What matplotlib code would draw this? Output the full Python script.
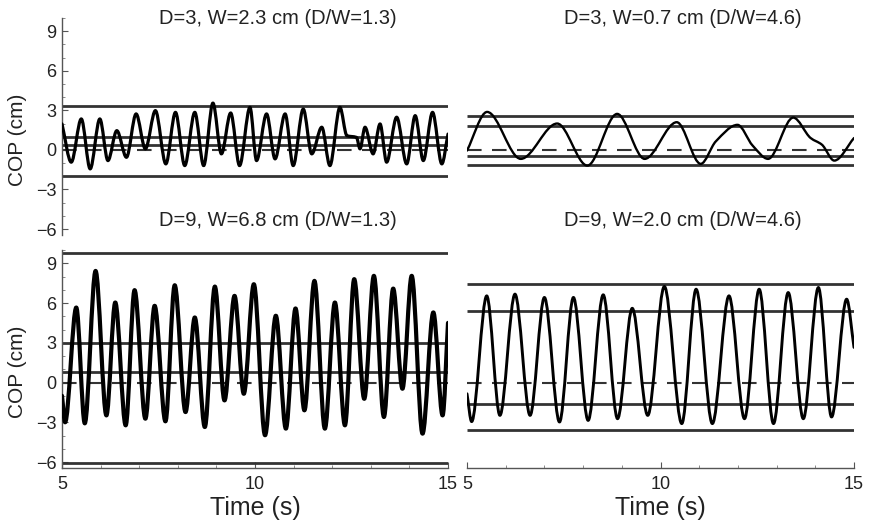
import numpy as np
import matplotlib
matplotlib.use("Agg")
import matplotlib.pyplot as plt
from matplotlib.path import Path
from matplotlib.patches import PathPatch
from matplotlib.ticker import MultipleLocator

plt.rcParams['font.family'] = ['Liberation Sans', 'DejaVu Sans']

# --- data (peaks / troughs of the COP trace) ---
tl_time = [5.00, 5.24, 5.50, 5.73, 5.98, 6.19, 6.42, 6.67, 6.92, 7.16, 7.42, 7.69, 7.94,
           8.18, 8.44, 8.67, 8.91, 9.13, 9.37, 9.60, 9.87, 10.04, 10.30, 10.52, 10.78,
           10.99, 11.25, 11.47, 11.73, 11.94, 12.20, 12.38, 12.63, 12.72, 12.85, 13.06,
           13.24, 13.41, 13.67, 13.93, 14.15, 14.36, 14.60, 14.84, 15.00]
tl_cop = [1.97, -0.93, 2.35, -1.44, 2.35, -0.81, 1.46, -0.56, 2.73, 0.08, 2.98, -1.06, 2.85,
          -1.19, 2.85, -1.19, 3.55, -0.30, 2.80, -1.19, 3.23, -0.81, 2.73, -0.68, 2.73,
          -1.19, 3.10, -0.30, 1.72, -1.19, 3.23, 1.08, 0.95, 0.08, 1.72, -0.30,
          1.97, -0.93, 2.48, -1.06, 2.60, -0.81, 2.85, -1.06, 1.20]

tr_time = [5.00, 5.52, 6.39, 7.33, 8.11, 8.88, 9.59, 10.42, 11.04, 11.43, 11.99, 12.38,
           12.78, 13.43, 13.88, 14.17, 14.49, 15.00]
tr_cop = [-0.05, 2.88, -0.68, 2.00, -1.19, 2.73, -0.68, 2.10, -1.06, 0.65, 1.90, 0.33,
          -0.68, 2.45, 0.90, 0.40, -0.81, 0.90]

bl_time = [5.00, 5.08, 5.37, 5.59, 5.87, 6.15, 6.38, 6.65, 6.88, 7.16, 7.40, 7.68, 7.92,
           8.20, 8.44, 8.70, 8.96, 9.21, 9.47, 9.71, 9.97, 10.26, 10.54, 10.80, 11.05,
           11.28, 11.54, 11.81, 12.07, 12.33, 12.57, 12.83, 13.08, 13.34, 13.58, 13.82,
           14.06, 14.34, 14.62, 14.86, 15.00]
bl_cop = [-1.0, -3.0, 5.66, -3.08, 8.42, -2.48, 6.04, -3.23, 6.97, -2.73, 5.79, -2.93, 7.34,
          -2.23, 4.91, -3.36, 7.24, -1.35, 6.54, -0.85, 7.42, -3.98, 5.04, -3.48, 5.59,
          -2.10, 7.67, -3.48, 6.04, -3.23, 7.80, -1.23, 8.05, -2.60, 7.09, -0.47,
          8.05, -3.86, 5.29, -2.48, 4.50]

br_time = [5.00, 5.12, 5.51, 5.85, 6.24, 6.63, 7.00, 7.39, 7.75, 8.13, 8.52, 8.89, 9.27,
           9.67, 10.10, 10.55, 10.92, 11.34, 11.77, 12.17, 12.55, 12.92, 13.30, 13.69,
           14.08, 14.42, 14.81, 15.00]
br_cop = [-0.85, -2.95, 6.54, -2.48, 6.67, -2.48, 6.42, -2.98, 6.42, -2.86, 6.62, -2.73, 5.60,
          -2.48, 7.25, -3.10, 7.04, -3.10, 6.54, -2.73, 7.04, -3.10, 6.79, -2.73,
          7.17, -2.60, 6.29, 2.65]

# target edges (cm)
tl_targets = [3.3, 1.0, 0.35, -1.95]
tr_targets = [2.55, 1.85, -0.45, -1.15]
bl_targets = [9.8, 2.95, 0.8, -6.05]
br_targets = [7.4, 5.4, -1.6, -3.6]

titles = ["D=3, W=2.3 cm (D/W=1.3)", "D=3, W=0.7 cm (D/W=4.6)",
          "D=9, W=6.8 cm (D/W=1.3)", "D=9, W=2.0 cm (D/W=4.6)"]


def curve_path(t, v):
    # smooth curve through the read extrema (flat tangents at peaks/troughs)
    t = np.asarray(t, float)
    v = np.asarray(v, float)
    d = np.diff(v) / np.diff(t)
    m = np.zeros(len(t))
    for i in range(1, len(t) - 1):
        if d[i - 1] * d[i] > 0:
            m[i] = 2.0 / (1.0 / d[i - 1] + 1.0 / d[i])
    m[0] = d[0]
    m[-1] = d[-1]
    verts = [(t[0], v[0])]
    codes = [Path.MOVETO]
    for i in range(len(t) - 1):
        h = (t[i + 1] - t[i]) / 3.0
        verts += [(t[i] + h, v[i] + m[i] * h),
                  (t[i + 1] - h, v[i + 1] - m[i + 1] * h),
                  (t[i + 1], v[i + 1])]
        codes += [Path.CURVE4] * 3
    return Path(verts, codes)


W, H = 872, 524
fig = plt.figure(figsize=(W / 100, H / 100), dpi=100)

ax_tl = fig.add_axes([62 / W, 1 - 235 / H, 386 / W, 217 / H])
ax_tr = fig.add_axes([467 / W, 1 - 235 / H, 387 / W, 217 / H])
ax_bl = fig.add_axes([62 / W, 1 - 468 / H, 386 / W, 218 / H])
ax_br = fig.add_axes([467 / W, 1 - 468 / H, 387 / W, 218 / H])

panels = [
    (ax_tl, tl_time, tl_cop, tl_targets, 2.3),
    (ax_tr, tr_time, tr_cop, tr_targets, 1.7),
    (ax_bl, bl_time, bl_cop, bl_targets, 3.0),
    (ax_br, br_time, br_cop, br_targets, 2.1),
]

txt = '#222222'
for ax, t, v, targets, lw in panels:
    ax.set_xlim(5, 15)
    ax.set_ylim(-6.45, 10.0)
    ax.set_facecolor('none')
    for s in ax.spines.values():
        s.set_visible(False)
    for y in targets:
        ax.hlines(y, 5, 15, color='#333333', lw=2.0, zorder=2)
    ax.hlines(0, 5, 15, color='#333333', lw=1.5, linestyles=(0, (7, 5)), zorder=2)
    ax.add_patch(PathPatch(curve_path(t, v), fill=False, edgecolor='black', lw=lw,
                           joinstyle='round', capstyle='round', zorder=3))
    ax.set_xticks([])
    ax.set_yticks([])

for ax in (ax_tl, ax_bl):
    ax.spines['left'].set_visible(True)
    ax.spines['left'].set_color('#555555')
    ax.spines['left'].set_linewidth(1.0)
    ax.set_yticks([-6, -3, 0, 3, 6, 9])
    ax.yaxis.set_minor_locator(MultipleLocator(1))
    ax.tick_params(axis='y', which='major', direction='in', length=4, width=0.8,
                   color='#555555', labelsize=13, labelcolor=txt, pad=4)
    ax.tick_params(axis='y', which='minor', direction='in', length=2, width=0.6,
                   color='#777777')
    ax.set_ylabel('COP (cm)', fontsize=15, color=txt)
    ax.yaxis.set_label_coords(-0.09, 0.44)

for ax in (ax_bl, ax_br):
    ax.spines['bottom'].set_visible(True)
    ax.spines['bottom'].set_color('#555555')
    ax.spines['bottom'].set_linewidth(1.0)
    ax.set_xticks([5, 10, 15])
    ax.xaxis.set_minor_locator(MultipleLocator(1))
    ax.tick_params(axis='x', which='major', direction='in', length=4, width=0.8,
                   color='#555555', labelsize=13, labelcolor=txt, pad=6)
    ax.tick_params(axis='x', which='minor', direction='in', length=2, width=0.6,
                   color='#777777')
    ax.set_xlabel('Time (s)', fontsize=18, color=txt, labelpad=2)

title_pos = [(278, 19), (683, 19), (278, 221), (683, 221)]
for (x, y), s in zip(title_pos, titles):
    fig.text(x / W, 1 - y / H, s, ha='center', va='center', fontsize=14.5, color=txt)

fig.savefig('out.png', dpi=100)
